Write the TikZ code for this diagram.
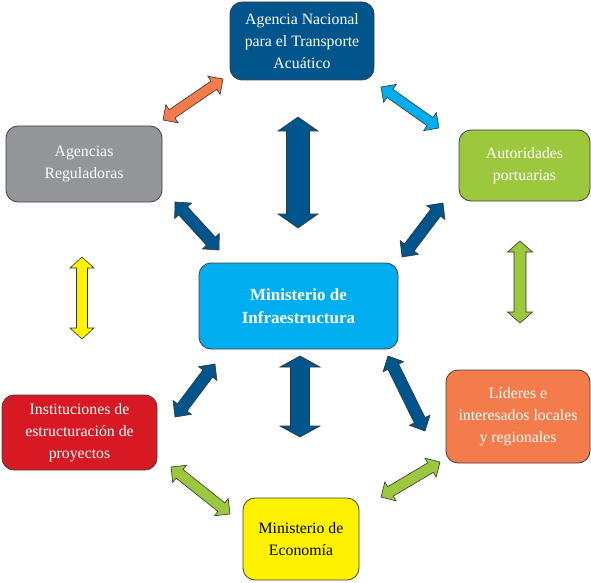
\documentclass[tikz,border=0pt]{standalone}
\usepackage{fontspec}
\setmainfont{Liberation Serif}
\usetikzlibrary{calc}
\definecolor{dblue}{RGB}{0,85,140}
\definecolor{lblue}{RGB}{0,174,239}
\definecolor{cgray}{RGB}{147,149,152}
\definecolor{cgreen}{RGB}{155,200,60}
\definecolor{corange}{RGB}{244,124,76}
\definecolor{cred}{RGB}{215,25,35}
\definecolor{cyellow}{RGB}{255,242,0}
\newcommand{\dblarr}[6]{%
  \draw[arrowbody, fill=#6] let \p1=($(#2)-(#1)$), \n1={atan2(\y1,\x1)}, \n2={veclen(\x1,\y1)} in
    [shift={(#1)}, rotate=\n1]
    (0,0) -- (#5,#4) -- (#5,#3) -- (\n2-#5,#3) -- (\n2-#5,#4) -- (\n2,0)
    -- (\n2-#5,-#4) -- (\n2-#5,-#3) -- (#5,-#3) -- (#5,-#4) -- cycle;}
\begin{document}
\begin{tikzpicture}[x=1pt,y=1pt,
  box/.style={draw=black!75, line width=0.8pt, rounded corners=12pt, align=center,
    text=white, inner sep=2pt, font=\fontsize{15.8}{22}\selectfont},
  arrowbody/.style={draw=black!80, line width=0.6pt, line join=miter}]
\useasboundingbox (0,0) rectangle (591,582);
% boxes
\node[box, fill=dblue, minimum width=144pt, minimum height=78pt] (ant) at (302,541)
  {Agencia Nacional\\para el Transporte\\Acuático};
\node[box, fill=cgray, minimum width=156pt, minimum height=76pt] (ar) at (84,418)
  {Agencias\\Reguladoras};
\node[box, fill=cgreen, minimum width=131pt, minimum height=71pt] (ap) at (524.5,416.5)
  {Autoridades\\portuarias};
\node[box, fill=lblue, minimum width=199pt, minimum height=86pt,
  font=\fontsize{17}{23}\selectfont\bfseries] (mi) at (298.5,276)
  {Ministerio de\\Infraestructura};
\node[box, fill=corange, minimum width=144pt, minimum height=93pt] (li) at (518,165.5)
  {Líderes e\\interesados locales\\y regionales};
\node[box, fill=cred, minimum width=155pt, minimum height=75pt] (ie) at (79.5,149.5)
  {Instituciones de\\estructuración de\\proyectos};
\node[box, fill=cyellow, text=black, minimum width=116pt, minimum height=82pt] (me) at (301,43)
  {Ministerio de\\Economía};
% arrow end points
\coordinate (a1s) at (163,462); \coordinate (a1e) at (223,503);
\coordinate (a2s) at (381,495); \coordinate (a2e) at (439,454);
\coordinate (a3s) at (298,465); \coordinate (a3e) at (298,354);
\coordinate (a4s) at (175,380); \coordinate (a4e) at (219,332);
\coordinate (a5s) at (443,379); \coordinate (a5e) at (402,325);
\coordinate (a6s) at (82,325);  \coordinate (a6e) at (82,243);
\coordinate (a7s) at (520,341); \coordinate (a7e) at (520,259);
\coordinate (a8s) at (175,165); \coordinate (a8e) at (215,218);
\coordinate (a9s) at (300,226); \coordinate (a9e) at (300,145);
\coordinate (a10s) at (388,226); \coordinate (a10e) at (425,151);
\coordinate (a11s) at (171,115); \coordinate (a11e) at (230,68);
\coordinate (a12s) at (381,85);  \coordinate (a12e) at (440,120);
% arrows
\dblarr{a1s}{a1e}{5}{11}{11}{corange}
\dblarr{a2s}{a2e}{5}{11}{11}{lblue}
\dblarr{a3s}{a3e}{11.5}{20}{14}{dblue}
\dblarr{a4s}{a4e}{6}{11.5}{12}{dblue}
\dblarr{a5s}{a5e}{6}{11.5}{12}{dblue}
\dblarr{a6s}{a6e}{5.5}{12}{11}{cyellow}
\dblarr{a7s}{a7e}{6}{12.5}{11}{cgreen}
\dblarr{a8s}{a8e}{6}{11.5}{12}{dblue}
\dblarr{a9s}{a9e}{9.5}{20}{11}{dblue}
\dblarr{a10s}{a10e}{6}{11.5}{12}{dblue}
\dblarr{a11s}{a11e}{5.5}{11}{11}{cgreen}
\dblarr{a12s}{a12e}{5.5}{11}{11}{cgreen}
\end{tikzpicture}
\end{document}
